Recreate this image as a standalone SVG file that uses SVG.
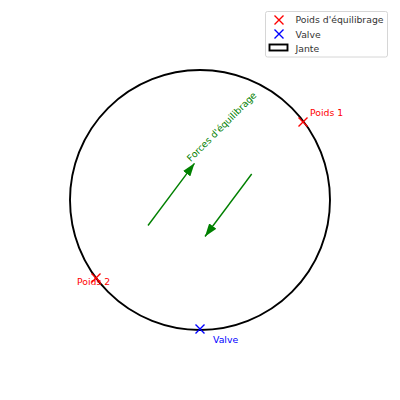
<svg xmlns="http://www.w3.org/2000/svg" width="400" height="400" viewBox="0 0 400 400">
<style>
text{font-family:"DejaVu Sans",sans-serif;font-size:9.3px}
.xr{stroke:red;stroke-width:1.4;fill:none}
.xb{stroke:blue;stroke-width:1.4;fill:none}
.arr{stroke:green;stroke-width:1.4;fill:none}
</style>
<defs>
<marker id="ah" viewBox="0 0 13 9" refX="13" refY="4.5" markerWidth="13" markerHeight="9" markerUnits="userSpaceOnUse" orient="auto">
<path d="M0,0 L13,4.5 L0,9 z" fill="green"/>
</marker>
</defs>
<rect width="400" height="400" fill="#fff"/>
<g id="jante"><circle cx="200" cy="200" r="130" fill="none" stroke="#000" stroke-width="1.9"/></g>
<g id="connectors">
<line class="arr" x1="148" y1="225.5" x2="194.5" y2="163.3" marker-end="url(#ah)"/>
<line class="arr" x1="251.7" y1="174" x2="205" y2="236.5" marker-end="url(#ah)"/>
</g>
<g id="label-forces"><text x="224" y="129" fill="green" text-anchor="middle" transform="rotate(-45 224 129)">Forces d'équilibrage</text></g>
<g id="poids1"><path class="xr" d="M298.5,117.5 l9,9 m0,-9 l-9,9"/><text x="310" y="116" fill="red">Poids 1</text></g>
<g id="poids2"><path class="xr" d="M91.5,273.5 l9,9 m0,-9 l-9,9"/><text x="77" y="285" fill="red">Poids 2</text></g>
<g id="valve"><path class="xb" d="M195.5,324.5 l9,9 m0,-9 l-9,9"/><text x="213" y="343" fill="blue">Valve</text></g>
<g id="legend">
<rect x="265.5" y="11.5" width="122" height="45.5" rx="2" fill="#fff" fill-opacity="0.8" stroke="#ccc" stroke-width="0.8"/>
<path class="xr" d="M274.5,15.5 l9,9 m0,-9 l-9,9"/>
<text x="295.5" y="23" fill="#333">Poids d'équilibrage</text>
<path class="xb" d="M274.5,29.5 l9,9 m0,-9 l-9,9"/>
<text x="295.5" y="37.5" fill="#333">Valve</text>
<rect x="269.5" y="44.5" width="18" height="6" fill="none" stroke="#000" stroke-width="1.9"/>
<text x="295.5" y="51.5" fill="#333">Jante</text>
</g>
</svg>
